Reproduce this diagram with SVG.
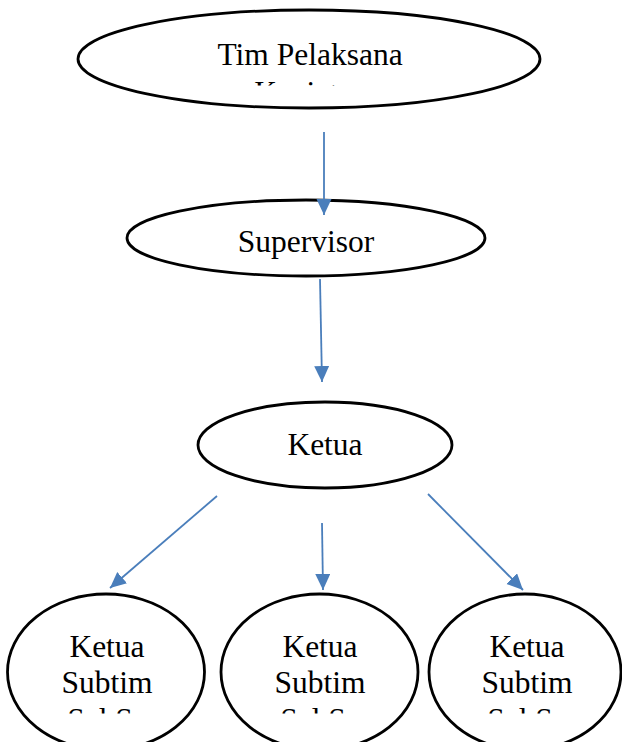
<svg xmlns="http://www.w3.org/2000/svg" width="622" height="742" viewBox="0 0 622 742">
  <style>
    .node { fill: #ffffff; stroke: #000000; stroke-width: 2.8; }
    .lbl { font-family: 'Liberation Serif', serif; font-size: 31.5px; fill: #000000; text-anchor: middle; }
    .edge { stroke: #4a7ebb; stroke-width: 1.8; fill: none; marker-end: url(#arrow); }
  </style>
  <defs>
    <marker id="arrow" markerUnits="userSpaceOnUse" markerWidth="17" markerHeight="16" refX="16" refY="7.5" orient="auto">
      <path d="M0,0 L16,7.5 L0,15 z" fill="#4a7ebb"/>
    </marker>
    <clipPath id="clipTop"><rect x="0" y="0" width="622" height="85.5"/></clipPath>
    <clipPath id="clipBottom"><rect x="0" y="0" width="622" height="713.5"/></clipPath>
  </defs>

  <g id="tim-pelaksana">
    <ellipse class="node" cx="309" cy="59" rx="231" ry="49"/>
    <text class="lbl" font-family="Liberation Serif, serif" x="310" y="65">Tim Pelaksana</text>
    <text class="lbl" font-family="Liberation Serif, serif" x="311" y="103" clip-path="url(#clipTop)">Kegiatan</text>
  </g>

  <g id="supervisor">
    <ellipse class="node" cx="306" cy="238" rx="179" ry="38"/>
    <text class="lbl" font-family="Liberation Serif, serif" x="306" y="252">Supervisor</text>
  </g>

  <g id="ketua">
    <ellipse class="node" cx="325" cy="445" rx="127" ry="43"/>
    <text class="lbl" font-family="Liberation Serif, serif" x="325" y="455">Ketua</text>
  </g>

  <g id="subtim-1">
    <ellipse class="node" cx="106" cy="672" rx="98.5" ry="78"/>
    <text class="lbl" font-family="Liberation Serif, serif" x="107" y="657">Ketua</text>
    <text class="lbl" font-family="Liberation Serif, serif" x="107" y="693">Subtim</text>
    <text class="lbl" font-family="Liberation Serif, serif" x="107" y="730" clip-path="url(#clipBottom)">Sel Se</text>
  </g>

  <g id="subtim-2">
    <ellipse class="node" cx="319.5" cy="672" rx="98.5" ry="78"/>
    <text class="lbl" font-family="Liberation Serif, serif" x="320" y="657">Ketua</text>
    <text class="lbl" font-family="Liberation Serif, serif" x="320" y="693">Subtim</text>
    <text class="lbl" font-family="Liberation Serif, serif" x="320" y="730" clip-path="url(#clipBottom)">Sel Se</text>
  </g>

  <g id="subtim-3">
    <ellipse class="node" cx="525" cy="672" rx="96" ry="78"/>
    <text class="lbl" font-family="Liberation Serif, serif" x="527" y="657">Ketua</text>
    <text class="lbl" font-family="Liberation Serif, serif" x="527" y="693">Subtim</text>
    <text class="lbl" font-family="Liberation Serif, serif" x="527" y="730" clip-path="url(#clipBottom)">Sel Se</text>
  </g>

  <g id="connectors">
    <line class="edge" x1="324" y1="132" x2="324" y2="215"/>
    <line class="edge" x1="320" y1="279" x2="322" y2="382"/>
    <line class="edge" x1="217" y1="496" x2="110" y2="588"/>
    <line class="edge" x1="322" y1="523" x2="323" y2="590"/>
    <line class="edge" x1="428" y1="494" x2="523" y2="590"/>
  </g>
</svg>
